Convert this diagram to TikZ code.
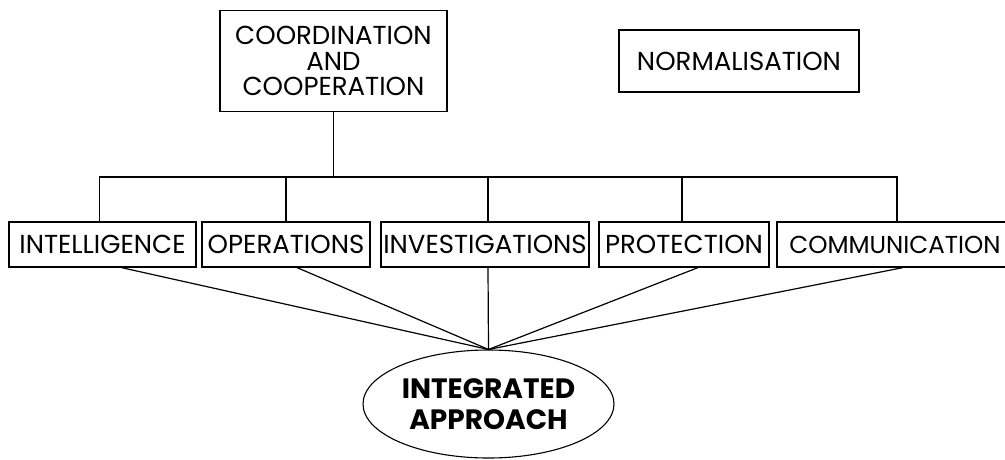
\documentclass[tikz,border=0pt]{standalone}
\usepackage{fontspec}
\setmainfont{Poppins}
\usetikzlibrary{shapes.geometric,calc}
\tikzset{
  unit/.style={draw, line width=1.2pt, inner sep=0pt, align=center,
    font=\fontsize{26}{25.5}\selectfont, minimum height=45pt},
  link/.style={line width=1.2pt},
  spoke/.style={line width=1.2pt},
}
\begin{document}
\begin{tikzpicture}[x=1pt,y=-1pt]
  \useasboundingbox (0,0) rectangle (1005,459);
  % top level
  \node[unit, minimum width=227pt, minimum height=101pt] (coord) at (333.5,61)
    {COORDINATION\\AND\\COOPERATION};
  \node[unit, minimum width=240pt, minimum height=62pt] (norm) at (739,61)
    {NORMALISATION};
  % second level
  \node[unit, minimum width=187pt] (intel) at (102.5,244.5) {INTELLIGENCE};
  \node[unit, minimum width=168pt] (oper)  at (286,244.5)   {OPERATIONS};
  \node[unit, minimum width=208pt] (inv)   at (485,244.5)   {INVESTIGATIONS};
  \node[unit, minimum width=170pt] (prot)  at (684,244.5)   {PROTECTION};
  \node[unit, minimum width=236pt, font=\fontsize{24.5}{25.5}\selectfont]
    (comm) at (895,244.5) {COMMUNICATION};
  % result
  \node[draw, ellipse, line width=1.1pt, minimum width=251pt, minimum height=108pt,
    inner sep=0pt, align=center, font=\fontsize{28}{31}\selectfont\bfseries]
    (integ) at (488.5,404) {INTEGRATED\\APPROACH};
  % bus
  \coordinate (bus) at (0,177);
  \draw[link] (coord.south) -- (coord.south |- bus);
  \draw[link] ([xshift=-3pt]intel.north) |- ([xshift=2pt]comm.north |- bus) -- ([xshift=2pt]comm.north);
  \draw[link] (oper.north) -- (oper.north |- bus);
  \draw[link] ([xshift=3pt]inv.north) -- ([xshift=3pt]inv.north |- bus);
  \draw[link] ([xshift=-2pt]prot.north) -- ([xshift=-2pt]prot.north |- bus);
  % spokes to the integrated approach
  \draw[spoke] ([xshift=19pt]intel.south) -- (integ.north);
  \draw[spoke] ([xshift=11pt]oper.south) -- (integ.north);
  \draw[spoke] ([xshift=3pt]inv.south) -- (integ.north);
  \draw[spoke] ([xshift=14pt]prot.south) -- (integ.north);
  \draw[spoke] ([xshift=8pt]comm.south) -- (integ.north);
\end{tikzpicture}
\end{document}
